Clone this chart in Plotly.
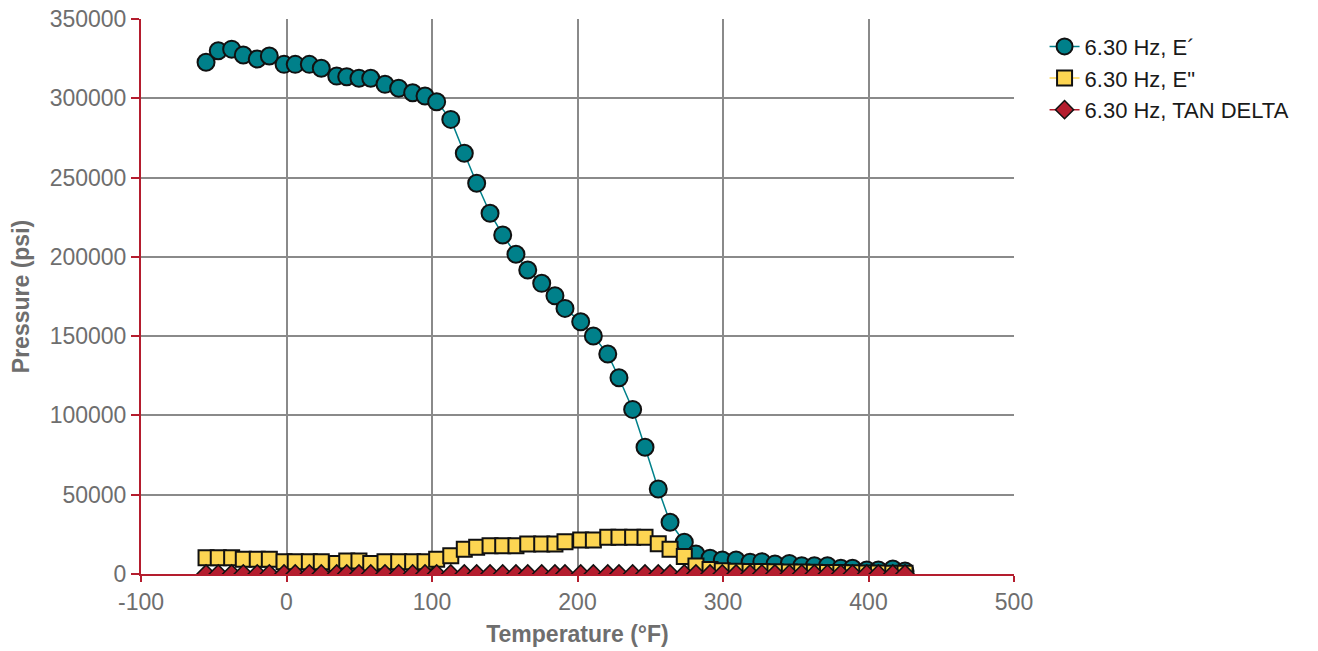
import plotly.graph_objects as go

temperature = [-55.3, -46.9, -37.7, -29.7, -20.1, -11.8, -1.7, 6.0, 15.7, 23.9,
               34.5, 41.4, 49.8, 57.9, 67.7, 77.1, 86.7, 95.2, 103.2, 112.9,
               122.2, 130.7, 139.9, 148.6, 157.7, 165.8, 175.4, 184.5, 191.4, 202.2,
               210.9, 220.8, 228.5, 237.9, 246.4, 255.5, 263.6, 273.4, 281.4, 291.1,
               299.5, 309.0, 318.6, 326.7, 335.7, 345.6, 354.1, 362.8, 371.8, 381.0,
               389.0, 398.8, 406.8, 416.7, 425.1]

e_storage = [322700, 330000, 331000, 327300, 324800, 326700, 321400, 321400, 321400, 318900,
             314000, 313600, 312600, 312600, 308800, 306300, 303500, 301400, 297800, 286700,
             265300, 246400, 227500, 213800, 201600, 191700, 183300, 175500, 167500, 159100,
             150100, 138700, 123800, 103800, 79900, 53600, 32600, 20000, 12600, 9900,
             8800, 8800, 7400, 7800, 6300, 6700, 5200, 5200, 5200, 3600,
             3600, 2500, 2500, 3200, 1900]

e_loss = [10300, 10300, 10300, 9300, 9300, 9300, 7800, 7800, 7800, 7800,
          6700, 8200, 8200, 6700, 7800, 7800, 7800, 7800, 9300, 11500,
          15600, 16800, 17800, 17800, 17800, 18900, 18900, 18900, 20400, 21400,
          21400, 23100, 23100, 23100, 23100, 19000, 15600, 11000, 5000, 2800,
          2000, 1800, 1600, 1500, 1400, 1300, 1200, 1100, 1000, 900,
          800, 700, 600, 500, 400]

tan_delta = [0.03, 0.03, 0.03, 0.03, 0.03, 0.03, 0.02, 0.02, 0.02, 0.02,
             0.02, 0.03, 0.03, 0.02, 0.03, 0.03, 0.03, 0.03, 0.03, 0.04,
             0.06, 0.07, 0.08, 0.08, 0.09, 0.10, 0.10, 0.11, 0.12, 0.13,
             0.14, 0.17, 0.19, 0.22, 0.29, 0.35, 0.48, 0.55, 0.40, 0.28,
             0.23, 0.20, 0.22, 0.19, 0.22, 0.19, 0.23, 0.21, 0.19, 0.25,
             0.22, 0.28, 0.24, 0.19, 0.21]

series_names = ["6.30 Hz, E´", "6.30 Hz, E\"", "6.30 Hz, TAN DELTA"]

x_tick_values = [-100, 0, 100, 200, 300, 400, 500]
x_tick_labels = ["-100", "0", "100", "200", "300", "400", "500"]
y_tick_values = [0, 50000, 100000, 150000, 200000, 250000, 300000, 350000]
y_tick_labels = ["0", "50000", "100000", "150000", "200000", "250000", "300000", "350000"]

TEAL = "#00808a"
YELLOW = "#fdd552"
RED = "#b41d2e"
GRID = "#8a8a8a"
TXT = "#6e6e6e"

fig = go.Figure()
fig.add_trace(go.Scatter(
    x=temperature, y=e_storage, name=series_names[0], mode="lines+markers",
    line=dict(color=TEAL, width=1.5),
    marker=dict(symbol="circle", size=17, color=TEAL, line=dict(color="#111111", width=2)),
))
fig.add_trace(go.Scatter(
    x=temperature, y=e_loss, name=series_names[1], mode="lines+markers",
    line=dict(color=YELLOW, width=1.5),
    marker=dict(symbol="square", size=15, color=YELLOW, line=dict(color="#111111", width=2)),
))
fig.add_trace(go.Scatter(
    x=temperature, y=tan_delta, name=series_names[2], mode="lines+markers",
    line=dict(color=RED, width=1.5),
    marker=dict(symbol="diamond", size=14, color=RED, line=dict(color="#111111", width=1.5)),
))

fig.update_layout(
    width=1318, height=651,
    margin=dict(l=141, r=304, t=19, b=77, autoexpand=False),
    paper_bgcolor="white", plot_bgcolor="white",
    font=dict(family="Liberation Sans, Arial, sans-serif", size=24, color=TXT),
    showlegend=True,
    legend=dict(x=1.035, y=0.988, xanchor="left", yanchor="top",
                font=dict(size=22, color="#1a1a1a"), bgcolor="rgba(0,0,0,0)",
                tracegroupgap=0, itemwidth=30),
    xaxis=dict(
        range=[-100, 500], tickmode="array", tickvals=x_tick_values, ticktext=x_tick_labels,
        showgrid=True, gridcolor=GRID, gridwidth=2,
        showline=True, linecolor=RED, linewidth=2,
        ticks="outside", tickcolor=RED, ticklen=6, tickwidth=2,
        zeroline=False, automargin=False,
        tickfont=dict(size=23, color=TXT),
        title=dict(text="<b>Temperature (°F)</b>", font=dict(size=23, color=TXT), standoff=12),
    ),
    yaxis=dict(
        range=[0, 350000], tickmode="array", tickvals=y_tick_values, ticktext=y_tick_labels,
        showgrid=True, gridcolor=GRID, gridwidth=2,
        showline=True, linecolor=RED, linewidth=2,
        ticks="outside", tickcolor=RED, ticklen=8, tickwidth=2,
        zeroline=False, automargin=False,
        tickfont=dict(size=23, color=TXT),
        title=dict(text="<b>Pressure (psi)</b>", font=dict(size=23, color=TXT), standoff=14),
    ),
)

fig.write_html("out.html")
